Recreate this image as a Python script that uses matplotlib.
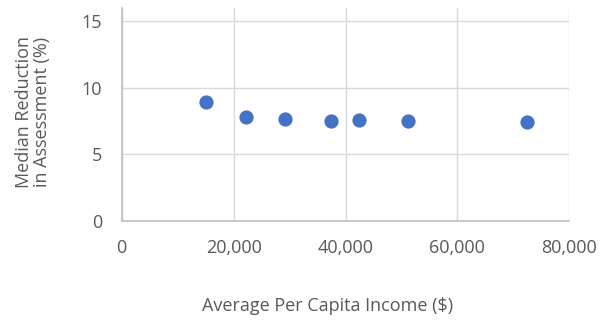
import matplotlib.pyplot as plt

plt.rcParams['font.family'] = ['Open Sans', 'DejaVu Sans']

income = [15000, 22300, 29200, 37400, 42400, 51200, 72500]
reduction = [8.9, 7.8, 7.65, 7.5, 7.55, 7.5, 7.4]
x_ticks = [0, 20000, 40000, 60000, 80000]
x_tick_labels = ['0', '20,000', '40,000', '60,000', '80,000']
y_ticks = [0, 5, 10, 15]

text_col = '#595959'

fig = plt.figure(figsize=(6.09, 3.23), dpi=100)
ax = fig.add_axes([121.7 / 609, 1 - 220.7 / 323, 447.6 / 609, 212.7 / 323])

ax.scatter(income, reduction, s=105, color='#4472C4', zorder=3, linewidths=0)

ax.set_xlim(0, 80000)
ax.set_ylim(0, 16)
ax.set_xticks(x_ticks)
ax.set_xticklabels(x_tick_labels)
ax.set_yticks(y_ticks)
ax.grid(True, color='#D9D9D9', linewidth=1)
ax.set_axisbelow(True)

for side in ['top', 'right']:
    ax.spines[side].set_visible(False)
for side in ['left', 'bottom']:
    ax.spines[side].set_color('#BFBFBF')
    ax.spines[side].set_linewidth(1.2)

ax.tick_params(length=0, labelsize=13, colors=text_col)
ax.tick_params(axis='y', pad=14)
ax.tick_params(axis='x', pad=13)

fig.text(328 / 609, 1 - 306 / 323, 'Average Per Capita Income ($)',
         ha='center', va='center', fontsize=13, color=text_col)
fig.text(33 / 609, 1 - 112 / 323, 'Median Reduction\nin Assessment (%)',
         ha='center', va='center', rotation=90, fontsize=13, color=text_col,
         multialignment='center', linespacing=1.0)

fig.savefig('out.png', dpi=100)
